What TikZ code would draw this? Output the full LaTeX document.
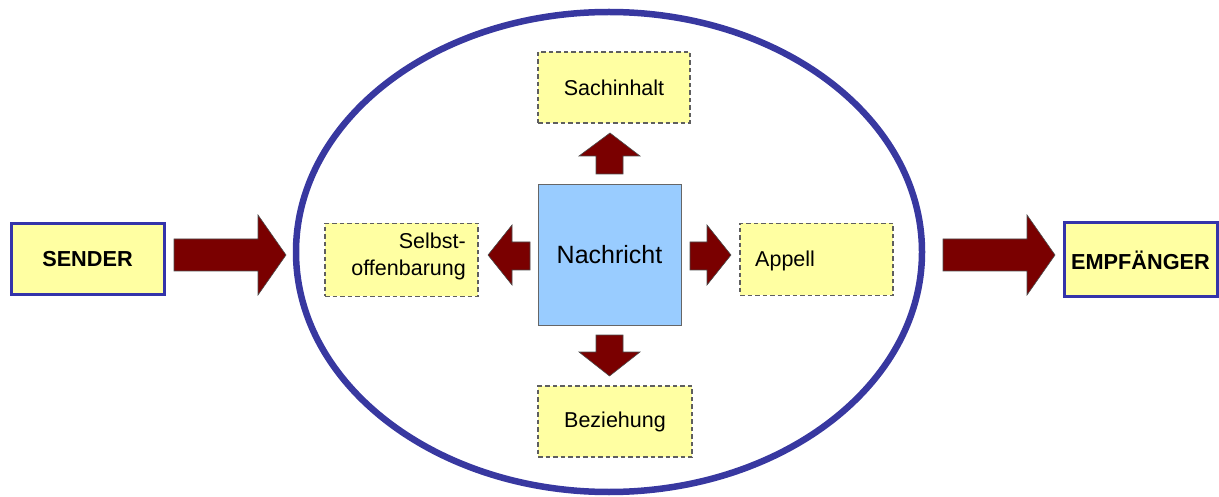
\documentclass[tikz,border=0pt]{standalone}
\usepackage{fontspec}
\setmainfont{Liberation Sans}
\begin{document}
\begin{tikzpicture}[x=1pt,y=-1pt,
  endbox/.style={draw=endblue,line width=3pt,fill=boxyellow,inner sep=0pt,font=\fontsize{21.7}{26}\selectfont\bfseries},
  aspect/.style={draw=dashgray,dash pattern=on 4.5pt off 3pt,line width=1.5pt,fill=boxyellow,inner sep=0pt,font=\fontsize{21.5}{27}\selectfont},
  blockarrow/.style={draw=black!70,line width=0.6pt,fill=arrowred,line join=miter}]
\definecolor{endblue}{RGB}{52,52,170}
\definecolor{ellblue}{RGB}{56,56,160}
\definecolor{boxyellow}{RGB}{255,255,162}
\definecolor{dashgray}{RGB}{95,95,95}
\definecolor{arrowred}{RGB}{122,0,0}
\definecolor{msgblue}{RGB}{153,204,255}
\useasboundingbox (0,0) rectangle (1219,497);
% ellipse
\draw[ellblue,line width=6.5pt] (609,252) ellipse [x radius=313, y radius=240];
% end boxes
\node[endbox,minimum width=153,minimum height=71] (sender) at (87.5,259.5) {SENDER};
\node[endbox,minimum width=153,minimum height=74] (empf) at (1140.5,260) {EMPFÄNGER};
% message box
\node[draw=black!60,line width=0.8pt,fill=msgblue,minimum width=143,minimum height=141,inner sep=0pt,font=\fontsize{25}{30}\selectfont] (msg) at (609.5,254.5) {Nachricht};
% aspect boxes
\node[aspect,minimum width=152,minimum height=71] (sach) at (614,87.5) {Sachinhalt};
\node[aspect,minimum width=154,minimum height=71] (bez) at (615,421.5) {Beziehung};
\node[aspect,minimum width=153,minimum height=73] (selbst) at (401.5,260) {};
\node[font=\fontsize{21.5}{27}\selectfont,align=right,anchor=east,inner sep=0pt] (selbsttext) at (466,256) {Selbst-\\offenbarung};
\node[aspect,minimum width=153,minimum height=72] (appell) at (816.5,259.5) {};
\node[font=\fontsize{21.5}{27}\selectfont,anchor=west,inner sep=0pt] (appelltext) at (755,261) {Appell};
% block arrows
\draw[blockarrow] (174,239)--(258,239)--(258,215)--(286,255)--(258,295)--(258,271)--(174,271)--cycle;
\draw[blockarrow] (943,239)--(1027,239)--(1027,215)--(1055,255)--(1027,295)--(1027,271)--(943,271)--cycle;
\draw[blockarrow] (596,174)--(596,156)--(579,156)--(610,133)--(640,156)--(623,156)--(623,174)--cycle;
\draw[blockarrow] (596,335)--(596,352)--(579,352)--(609.5,376)--(640,352)--(623,352)--(623,335)--cycle;
\draw[blockarrow] (530,242)--(512,242)--(512,225)--(488,255)--(512,285)--(512,270)--(530,270)--cycle;
\draw[blockarrow] (690,242)--(707,242)--(707,225)--(731,255)--(707,285)--(707,270)--(690,270)--cycle;
\end{tikzpicture}
\end{document}
